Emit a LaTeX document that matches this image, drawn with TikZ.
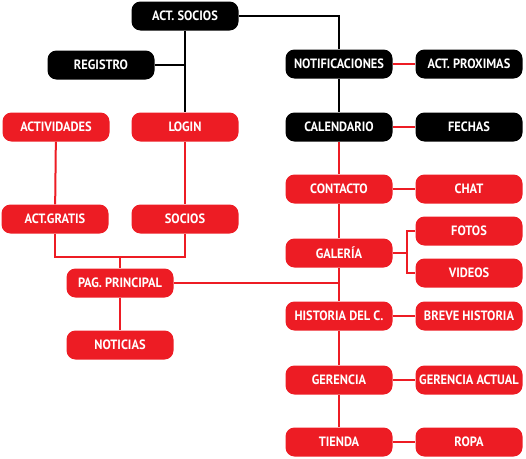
\documentclass[tikz,border=0pt]{standalone}
\usepackage{fontspec}
\setmainfont[FakeStretch=0.92]{PT Sans}
\definecolor{rojo}{HTML}{ED1C24}

\begin{document}
\begin{tikzpicture}[
        x=1pt, y=-1pt,
        caja/.style={rectangle, rounded corners=9pt, minimum width=107pt, minimum height=29pt, inner sep=0pt, align=center, text=white, font=\bfseries\fontsize{13.5}{13.5}\selectfont},
        cajanegra/.style={caja, fill=black},
        cajaroja/.style={caja, fill=rojo},
        lineanegra/.style={draw=black, line width=2pt},
        linearoja/.style={draw=rojo, line width=2pt}
    ]
        \useasboundingbox (0,0) rectangle (526,458);

        % Socios
        \node[cajanegra] (actsocios) at (185,16) {ACT. SOCIOS};
        \node[cajanegra] (registro) at (101,65) {REGISTRO};
        \node[cajanegra] (notif) at (339,64) {NOTIFICACIONES};
        \node[cajanegra] (actprox) at (469,64) {ACT. PROXIMAS};
        \node[cajanegra] (calendario) at (339,127) {CALENDARIO};
        \node[cajanegra] (fechas) at (469,127) {FECHAS};

        % Lado izquierdo
        \node[cajaroja] (actividades) at (56,127) {ACTIVIDADES};
        \node[cajaroja] (login) at (185,127) {LOGIN};
        \node[cajaroja] (actgratis) at (55,219) {ACT.GRATIS};
        \node[cajaroja] (socios) at (185,219) {SOCIOS};
        \node[cajaroja] (pag) at (120,283) {PAG. PRINCIPAL};
        \node[cajaroja] (noticias) at (120,345) {NOTICIAS};

        % Lado derecho
        \node[cajaroja] (contacto) at (339,189) {CONTACTO};
        \node[cajaroja] (chat) at (469,189) {CHAT};
        \node[cajaroja] (galeria) at (339,253) {GALERÍA};
        \node[cajaroja] (fotos) at (469,231) {FOTOS};
        \node[cajaroja] (videos) at (469,273) {VIDEOS};
        \node[cajaroja] (historia) at (339,316) {HISTORIA DEL C.};
        \node[cajaroja] (breve) at (469,316) {BREVE HISTORIA};
        \node[cajaroja] (gerencia) at (339,380) {GERENCIA};
        \node[cajaroja] (geractual) at (469,380) {GERENCIA ACTUAL};
        \node[cajaroja] (tienda) at (339,442) {TIENDA};
        \node[cajaroja] (ropa) at (469,442) {ROPA};

        \coordinate (union) at (120,257);
        \coordinate (horquilla) at (407,253);

        % Lineas negras
        \draw[lineanegra] (actsocios) -- (login);
        \draw[lineanegra] (registro.east) -- (registro.east -| actsocios.south);
        \draw[lineanegra] (actsocios.east) -| (notif.north);
        \draw[lineanegra] (notif) -- (calendario);

        % Lineas rojas
        \draw[linearoja] (notif) -- (actprox);
        \draw[linearoja] (calendario) -- (fechas);
        \draw[linearoja] (calendario) -- (contacto);
        \draw[linearoja] (contacto) -- (galeria);
        \draw[linearoja] (galeria) -- (historia);
        \draw[linearoja] (historia) -- (gerencia);
        \draw[linearoja] (gerencia) -- (tienda);
        \draw[linearoja] (contacto) -- (chat);
        \draw[linearoja] (historia) -- (breve);
        \draw[linearoja] (gerencia) -- (geractual);
        \draw[linearoja] (tienda) -- (ropa);
        \draw[linearoja] (galeria) -- (horquilla);
        \draw[linearoja] (fotos.west) -| (horquilla) |- (videos.west);
        \draw[linearoja] (actividades) -- (actgratis);
        \draw[linearoja] (login) -- (socios);
        \draw[linearoja] (actgratis.south) |- (union) -| (socios.south);
        \draw[linearoja] (union) -- (pag);
        \draw[linearoja] (pag) -- (noticias);
        \draw[linearoja] (pag.east) -- (pag.east -| historia.north);
    \end{tikzpicture}
\end{document}
